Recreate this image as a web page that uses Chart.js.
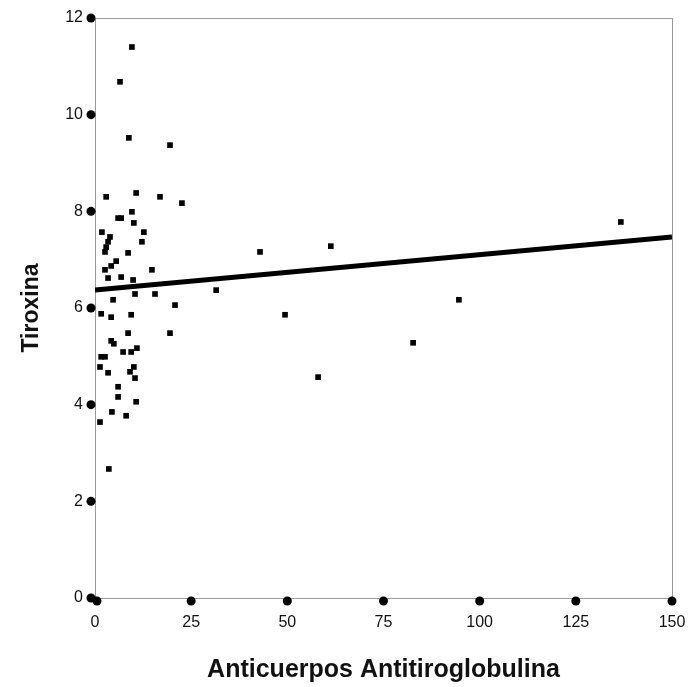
<!DOCTYPE html>
<html>
<head>
<meta charset="utf-8">
<script src="https://cdn.jsdelivr.net/npm/chart.js@4/dist/chart.umd.min.js"></script>
<style>
  html, body { margin: 0; padding: 0; background: #fff; }
  #wrap { width: 692px; height: 687px; }
</style>
</head>
<body>
<div id="wrap"><canvas id="chart"></canvas></div>
<script>
// anti-thyroglobulin antibodies (x) vs thyroxine (y)
const antibodies = [9.6, 6.5, 8.8, 19.5, 2.9, 10.7, 16.9, 22.6, 9.6, 6.0, 6.8, 10.1, 1.8, 12.7, 3.9, 3.4,
  2.9, 2.6, 12.2, 8.6, 42.9, 61.3, 136.7, 5.5, 4.2, 2.6, 3.4, 6.8, 14.8, 9.9, 10.4, 15.6, 31.5, 4.7,
  20.8, 1.6, 4.2, 9.4, 49.4, 94.6, 8.6, 19.5, 4.2, 4.9, 82.7, 7.3, 9.4, 10.9, 1.6, 2.6, 1.3, 3.4,
  10.1, 9.1, 10.4, 58.0, 6.0, 6.0, 10.7, 4.4, 8.1, 1.3, 3.6];
const thyroxine = [11.40, 10.68, 9.52, 9.37, 8.30, 8.38, 8.30, 8.17, 7.99, 7.86, 7.86, 7.76, 7.57, 7.57, 7.47, 7.37,
  7.26, 7.16, 7.37, 7.14, 7.16, 7.28, 7.78, 6.97, 6.87, 6.79, 6.62, 6.64, 6.79, 6.58, 6.29, 6.29, 6.37, 6.17,
  6.06, 5.88, 5.81, 5.86, 5.86, 6.17, 5.48, 5.48, 5.32, 5.26, 5.28, 5.09, 5.09, 5.17, 4.99, 4.99, 4.78, 4.66,
  4.78, 4.68, 4.55, 4.57, 4.37, 4.16, 4.06, 3.85, 3.77, 3.64, 2.67];

// fitted line end points
const fitX = [0, 150];
const fitY = [6.37, 7.47];

const xTicks = [0, 25, 50, 75, 100, 125, 150];
const yTicks = [0, 2, 4, 6, 8, 10, 12];

const points = antibodies.map((x, i) => ({ x: x, y: thyroxine[i] }));
const fitLine = fitX.map((x, i) => ({ x: x, y: fitY[i] }));

// frame around plot + round dots at the ticks
const frameAndDots = {
  id: 'frameAndDots',
  beforeDatasetsDraw(chart) {
    const a = chart.chartArea;
    const ctx = chart.ctx;
    ctx.save();
    ctx.strokeStyle = '#9a9a9a';
    ctx.lineWidth = 1;
    ctx.strokeRect(a.left + 0.5, a.top + 0.5, a.right - a.left, a.bottom - a.top);
    ctx.restore();
  },
  afterDraw(chart) {
    const ctx = chart.ctx;
    const xs = chart.scales.x, ys = chart.scales.y;
    const a = chart.chartArea;
    ctx.save();
    ctx.fillStyle = '#000';
    yTicks.forEach(v => {
      ctx.beginPath();
      ctx.arc(a.left - 4, ys.getPixelForValue(v), 4.5, 0, Math.PI * 2);
      ctx.fill();
    });
    xTicks.forEach(v => {
      ctx.beginPath();
      ctx.arc(xs.getPixelForValue(v) + (v === 0 ? 2 : 0), a.bottom + 3, 4.5, 0, Math.PI * 2);
      ctx.fill();
    });
    ctx.restore();
  }
};

new Chart(document.getElementById('chart'), {
  type: 'scatter',
  data: {
    datasets: [
      {
        label: 'Datos',
        data: points,
        pointStyle: 'rect',
        pointRadius: 4,
        backgroundColor: '#000',
        borderColor: '#000',
        borderWidth: 0
      },
      {
        type: 'line',
        label: 'Ajuste',
        data: fitLine,
        borderColor: '#000',
        borderWidth: 5,
        pointRadius: 0,
        fill: false
      }
    ]
  },
  options: {
    responsive: true,
    maintainAspectRatio: false,
    animation: false,
    layout: { padding: { top: 18, right: 20, left: 0, bottom: 0 } },
    plugins: { legend: { display: false }, tooltip: { enabled: false } },
    scales: {
      x: {
        type: 'linear',
        min: 0, max: 150,
        afterBuildTicks: s => { s.ticks = xTicks.map(v => ({ value: v })); },
        afterFit: s => { s.height = 89; s.paddingLeft = 0; s.paddingRight = 0; },
        grid: { display: false, drawTicks: false },
        border: { color: '#9a9a9a' },
        ticks: { color: '#111', padding: 15, maxRotation: 0, font: { family: 'Liberation Sans, Arial, sans-serif', size: 16 } },
        title: {
          display: true,
          text: 'Anticuerpos Antitiroglobulina',
          color: '#111',
          padding: { top: 0, bottom: 2 },
          font: { family: 'Liberation Sans, Arial, sans-serif', size: 25, weight: 'bold' }
        }
      },
      y: {
        min: 0, max: 12,
        afterBuildTicks: s => { s.ticks = yTicks.map(v => ({ value: v })); },
        afterFit: s => { s.width = 95; s.paddingTop = 0; s.paddingBottom = 0; },
        grid: { display: false, drawTicks: false },
        border: { color: '#9a9a9a' },
        ticks: { color: '#111', padding: 12, font: { family: 'Liberation Sans, Arial, sans-serif', size: 16 } },
        title: {
          display: true,
          text: 'Tiroxina',
          color: '#111',
          padding: { top: 18, bottom: 0 },
          font: { family: 'Liberation Sans, Arial, sans-serif', size: 23, weight: 'bold' }
        }
      }
    }
  },
  plugins: [frameAndDots]
});
</script>
</body>
</html>
